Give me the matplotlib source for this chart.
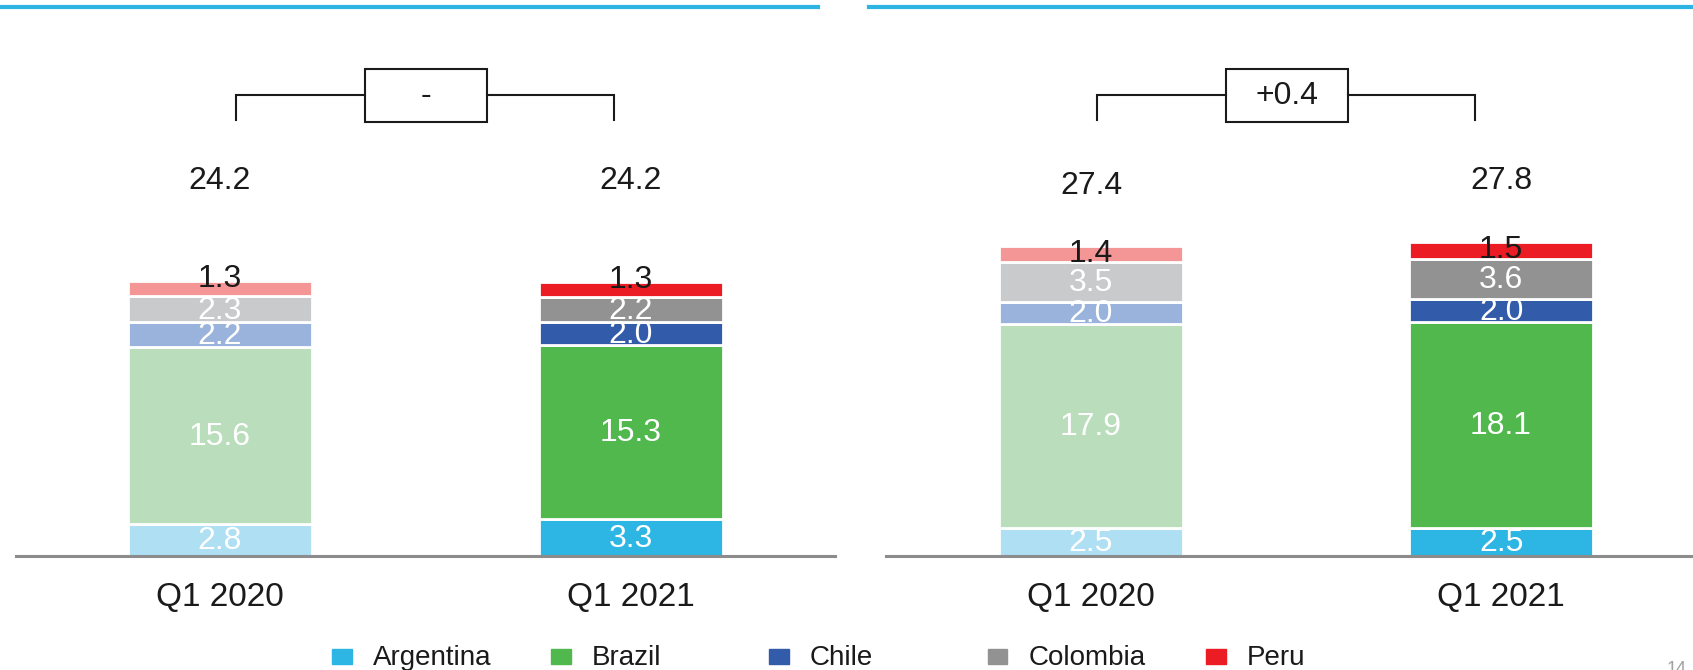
import matplotlib
matplotlib.use("Agg")
import matplotlib.pyplot as plt
from matplotlib.patches import Rectangle
from matplotlib.lines import Line2D

plt.rcParams['font.family'] = ['Liberation Sans', 'DejaVu Sans']

# ---------------- data ----------------
categories = ["Q1 2020", "Q1 2021"]
countries = ["Argentina", "Brazil", "Chile", "Colombia", "Peru"]

left_argentina = [2.8, 3.3]
left_brazil = [15.6, 15.3]
left_chile = [2.2, 2.0]
left_colombia = [2.3, 2.2]
left_peru = [1.3, 1.3]
left_totals = [24.2, 24.2]
left_delta = "-"

right_argentina = [2.5, 2.5]
right_brazil = [17.9, 18.1]
right_chile = [2.0, 2.0]
right_colombia = [3.5, 3.6]
right_peru = [1.4, 1.5]
right_totals = [27.4, 27.8]
right_delta = "+0.4"

# colours: [previous year (light), current year (strong)]
colors = {
    "Argentina": ["#AEDFF3", "#2DB6E3"],
    "Brazil": ["#BADEBB", "#50B84D"],
    "Chile": ["#9AB3DC", "#325BAA"],
    "Colombia": ["#C9CACB", "#929292"],
    "Peru": ["#F59696", "#EC1C24"],
}
label_colors = {"Argentina": "white", "Brazil": "white", "Chile": "white",
                "Colombia": "white", "Peru": "#1a1a1a"}

W, H = 1693, 670
fig = plt.figure(figsize=(W / 100, H / 100), dpi=100)

px_per_unit = 11.35
base_px = 556
ytop = base_px / px_per_unit


def draw_panel(ax, series, totals, delta, bracket, peru_offset, total_y):
    x = list(range(len(categories)))
    bottoms = [0.0] * len(categories)
    for name, vals in zip(countries, series):
        cols = [colors[name][i] for i in range(len(categories))]
        ax.bar(x, vals, width=0.448, bottom=bottoms, color=cols,
               edgecolor="white", linewidth=2, zorder=2)
        for i, v in enumerate(vals):
            yc = bottoms[i] + v / 2
            dy = peru_offset if name == "Peru" else -1
            ax.annotate(f"{v:.1f}", (x[i], yc), xytext=(0, dy),
                        textcoords="offset points", ha="center", va="center",
                        fontsize=23, color=label_colors[name], zorder=3)
        bottoms = [b + v for b, v in zip(bottoms, vals)]
    for i, t in enumerate(totals):
        ax.text(x[i], total_y[i], f"{t:.1f}", ha="center", va="center",
                fontsize=23, color="#1a1a1a")
    # bracket with delta box
    xl, xr, bx0, bx1 = bracket
    y_low, y_line, b_lo, b_hi = 38.4, 40.6, 38.2, 42.9
    ax.plot([xl, xl, bx0], [y_low, y_line, y_line], color="#1a1a1a", lw=1.5,
            solid_joinstyle="miter")
    ax.plot([bx1, xr, xr], [y_line, y_line, y_low], color="#1a1a1a", lw=1.5,
            solid_joinstyle="miter")
    ax.add_patch(Rectangle((bx0, b_lo), bx1 - bx0, b_hi - b_lo, fill=False,
                           edgecolor="#1a1a1a", lw=1.5))
    ax.text((bx0 + bx1) / 2, (b_lo + b_hi) / 2, delta, ha="center", va="center",
            fontsize=23, color="#1a1a1a")

    ax.set_ylim(0, ytop)
    ax.set_yticks([])
    for s in ["left", "right", "top"]:
        ax.spines[s].set_visible(False)
    ax.spines["bottom"].set_color("#8C8C8C")
    ax.spines["bottom"].set_linewidth(2.2)
    ax.set_xticks(x)
    ax.set_xticklabels(categories, fontsize=24, color="#1a1a1a")
    ax.tick_params(axis="x", length=0, pad=19)


yb = (H - base_px) / H
ax1 = fig.add_axes([16 / W, yb, 819 / W, 1 - yb])
ax1.set_xlim(-0.497, 1.498)
draw_panel(ax1, [left_argentina, left_brazil, left_chile, left_colombia, left_peru],
           left_totals, left_delta, (0.04, 0.96, 0.353, 0.65), 7, [33.0, 33.0])

ax2 = fig.add_axes([886 / W, yb, 807 / W, 1 - yb])
ax2.set_xlim(-0.5, 1.468)
draw_panel(ax2, [right_argentina, right_brazil, right_chile, right_colombia, right_peru],
           right_totals, right_delta, (0.015, 0.937, 0.329, 0.627), 0, [32.6, 33.0])

# top cyan rules
ytl = 1 - 7.3 / H
fig.add_artist(Line2D([0, 818 / W], [ytl, ytl], color="#2CB5E3", lw=3))
fig.add_artist(Line2D([869 / W, 1], [ytl, ytl], color="#2CB5E3", lw=3))

# legend (fixed-grid)
leg_y = 1 - 658 / H
for i, name in enumerate(countries):
    mx = 332 + i * 218.5
    fig.add_artist(Rectangle((mx / W, (H - 664) / H), 20 / W, 15 / H,
                             transform=fig.transFigure, color=colors[name][1]))
    fig.text((mx + 41) / W, leg_y, name, ha="left", va="center",
             fontsize=20, color="#1a1a1a")

# page number
fig.text(1667 / W, (H - 661) / H, "14", ha="left", va="top", fontsize=13,
         color="#A0A0A0")

fig.savefig("out.png", dpi=100)
